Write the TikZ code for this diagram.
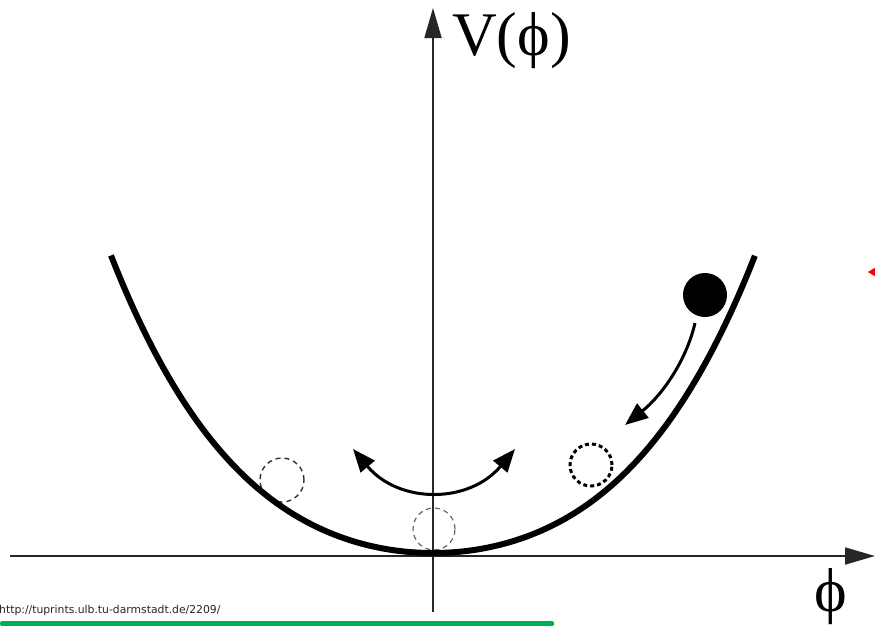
\documentclass[tikz,border=0pt]{standalone}
\usepackage{fontspec}
\setmainfont{Liberation Serif}
\newfontfamily\urlfont{DejaVu Sans}
\usetikzlibrary{arrows.meta}
\definecolor{urlgreen}{RGB}{0,176,80}
\tikzset{
  axis/.style={line width=1.8pt, draw=black!85, -{Triangle[length=30pt,width=17pt]}},
  potential/.style={line width=6pt, draw=black},
  motion/.style={line width=3pt, draw=black, -{Triangle[length=23pt,width=18pt]}},
  twoway/.style={line width=3pt, draw=black, {Triangle[length=23pt,width=18pt]}-{Triangle[length=23pt,width=18pt]}},
  ghostdark/.style={draw=black!80, line width=1.4pt, dash pattern=on 5pt off 4pt},
  ghostlight/.style={draw=black!60, line width=1.2pt, dash pattern=on 5pt off 4pt},
  ghostdotted/.style={draw=black, line width=3pt, dash pattern=on 4pt off 3pt},
  ball/.style={circle, fill=black, minimum size=44pt, inner sep=0pt},
  biglabel/.style={font=\fontsize{62}{62}\selectfont, inner sep=0pt},
}
\begin{document}
\begin{tikzpicture}[x=1pt,y=-1pt]
\useasboundingbox (0,0) rectangle (875,625);
% axes
\coordinate (xstart) at (10,556);
\coordinate (xend) at (875,556);
\coordinate (ystart) at (433,612);
\coordinate (yend) at (433,8);
\draw[axis] (xstart) -- (xend);
\draw[axis] (ystart) -- (yend);
% labels
\node[biglabel, anchor=base west] (vlabel) at (452,55) {V(ϕ)};
\node[biglabel, anchor=base] (philabel) at (831,611) {ϕ};
% ghost positions
\draw[ghostdark] (282,480) circle (22pt);
\draw[ghostlight] (434,529) circle (21pt);
\draw[ghostdotted] (591,465) circle (21pt);
% potential
\draw[potential] plot[domain=-3.22:3.22, samples=120, smooth] ({433+100*\x}, {553-(17.85*\x*\x+1.046*\x*\x*\x*\x)});
% ball
\node[ball] (ballnode) at (705,295) {};
% rolling arrow
\coordinate (rollstart) at (695,323);
\coordinate (rollend) at (625,425);
\draw[motion] (rollstart) .. controls (686,362) and (661,396) .. (rollend);
% oscillation arrow
\coordinate (oscleft) at (353,449);
\coordinate (oscright) at (515,449);
\draw[twoway] (oscleft) .. controls (399,504) and (469,504) .. (oscright);
% url and bar
\node[anchor=base west, inner sep=0pt, font=\urlfont\fontsize{10.8}{12}\selectfont, text=black!85] (url) at (-1,613) {http://tuprints.ulb.tu-darmstadt.de/2209/};
\fill[urlgreen, rounded corners=1.5pt] (0,621) rectangle (554,626);
% red marker
\fill[red] (868,272) -- (876,267) -- (876,277) -- cycle;
\end{tikzpicture}
\end{document}
